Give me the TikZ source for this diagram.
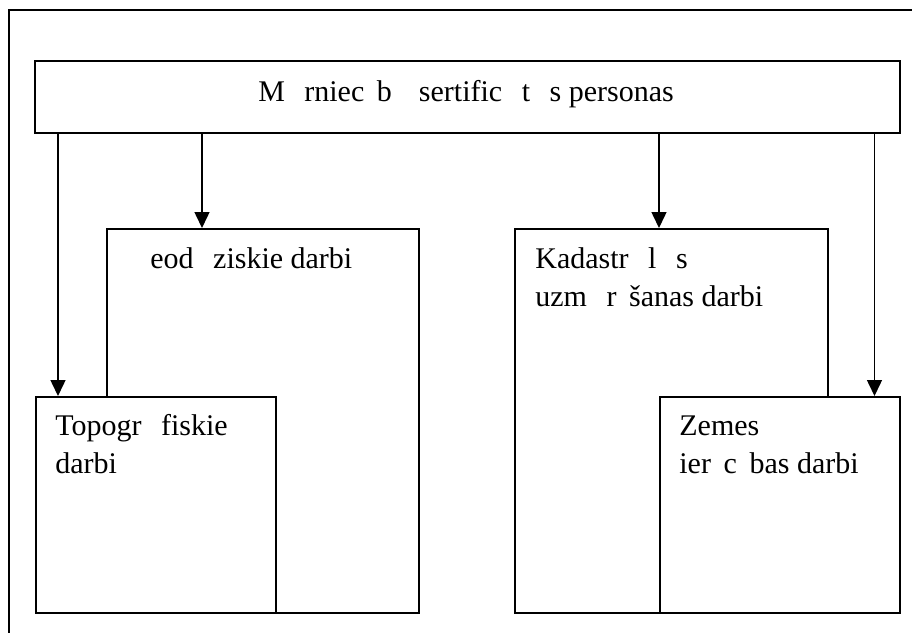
\documentclass[tikz,border=0pt]{standalone}
\usepackage{fontspec}
\setmainfont{Liberation Serif}
\usetikzlibrary{arrows.meta}
\newcommand\mygp[1]{\hspace{#1em}}
\newcommand\gapE{\mygp{.65}}% gap left by a missing long vowel (e/a)
\newcommand\gapI{\mygp{.42}}% gap left by a missing long i
\begin{document}
\begin{tikzpicture}[x=0.5pt,y=-0.5pt,
  box/.style={draw,line width=1pt,fill=white,inner sep=0pt,anchor=north west},
  lbl/.style={inner sep=0pt,anchor=base west,align=left,font=\fontsize{15}{18.75}\selectfont},
  arr/.style={line width=0.75pt,-{Triangle[length=8pt,width=7.5pt]}},
  frame/.style={line width=0.75pt}]
\useasboundingbox (0,0) rectangle (912,633);
% outer frame (only top and left edges visible)
\coordinate (fa) at (9,633);
\coordinate (fb) at (9,10);
\coordinate (fc) at (912,10);
\draw[frame] (fa) -- (fb) -- (fc);
% boxes
\node[box,minimum width=432.5pt,minimum height=36pt] (top) at (34,60) {};
\node[font=\fontsize{15}{18.75}\selectfont,inner sep=0pt,anchor=base] (toptxt) at (466,101) {M\gapE rniec\gapI b\gapE\ sertific\gapE t\gapE s personas};
\node[box,minimum width=156pt,minimum height=192pt] (geod) at (106,228) {};
\node[box,minimum width=156.5pt,minimum height=192pt] (kad) at (514,228) {};
\node[box,minimum width=120pt,minimum height=108pt] (topo) at (35,396) {};
\node[box,minimum width=120pt,minimum height=108pt] (zem) at (659,396) {};
% labels (anchored at the baseline of their last line)
\node[lbl] (geodt) at (150,268) {eod\gapE ziskie darbi};
\node[lbl] (kadt) at (535,306) {Kadastr\gapE l\gapE s\\uzm\gapE r\gapI šanas darbi};
\node[lbl] (topot) at (55,473) {Topogr\gapE fiskie\\darbi};
\node[lbl] (zemt) at (679,473) {Zemes\\ier\gapI c\gapI bas darbi};
% connector columns
\coordinate (c1) at (58,0);
\coordinate (c2) at (202,0);
\coordinate (c3) at (659,0);
\coordinate (c4) at (874.5,0);
\draw[arr] (top.south -| c1) -- (topo.north -| c1);
\draw[arr] (top.south -| c2) -- (geod.north -| c2);
\draw[arr] (top.south -| c3) -- (kad.north -| c3);
\draw[arr] (top.south -| c4) -- (zem.north -| c4);
\end{tikzpicture}
\end{document}
